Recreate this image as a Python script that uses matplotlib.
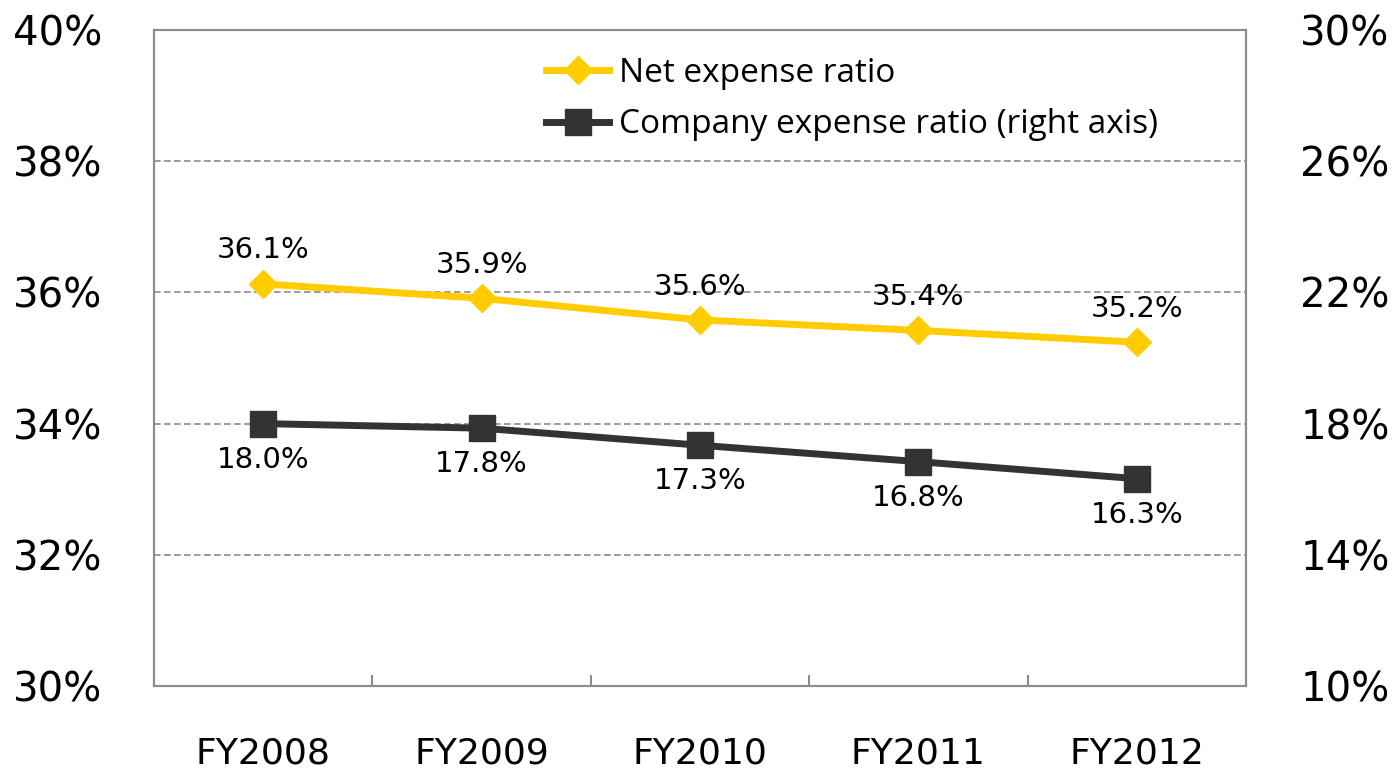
import matplotlib.pyplot as plt
from matplotlib.ticker import FixedLocator, FuncFormatter

years = ["FY2008", "FY2009", "FY2010", "FY2011", "FY2012"]
net_ratio = [36.13, 35.91, 35.58, 35.42, 35.24]
company_ratio = [18.0, 17.86, 17.34, 16.84, 16.32]
net_labels = ["36.1%", "35.9%", "35.6%", "35.4%", "35.2%"]
company_labels = ["18.0%", "17.8%", "17.3%", "16.8%", "16.3%"]

yellow = "#FFCC00"
dark = "#333333"
grey = "#8C8C8C"

fig = plt.figure(figsize=(13.96, 7.71), dpi=100)
ax = fig.add_axes([154 / 1396, 1 - 686 / 771, 1092 / 1396, 656 / 771])
ax2 = ax.twinx()

x = list(range(len(years)))
l1, = ax.plot(x, net_ratio, color=yellow, lw=5, marker="D", ms=14,
              label="Net expense ratio", zorder=3)
l2, = ax2.plot(x, company_ratio, color=dark, lw=5, marker="s", ms=19,
               label="Company expense ratio (right axis)", zorder=3)

ax.set_xlim(-0.5, len(years) - 0.5)
ax.set_ylim(30, 40)
ax2.set_ylim(10, 30)
ax.set_yticks([30, 32, 34, 36, 38, 40])
ax2.set_yticks([10, 14, 18, 22, 26, 30])
pct = FuncFormatter(lambda v, p: f"{v:.0f}%")
ax.yaxis.set_major_formatter(pct)
ax2.yaxis.set_major_formatter(pct)

ax.set_xticks(x)
ax.set_xticklabels(years)
ax.xaxis.set_minor_locator(FixedLocator([i + 0.5 for i in x[:-1]]))
ax.tick_params(axis="x", which="major", length=0, pad=36, labelsize=26)
ax.tick_params(axis="x", which="minor", direction="in", length=8, color=grey, width=1.5)
ax.tick_params(axis="y", length=0, pad=37, labelsize=29)
ax2.tick_params(axis="y", length=0, pad=39, labelsize=29)

ax.grid(axis="y", color=grey, ls=(0, (4, 2)), lw=1.2)
for a in (ax, ax2):
    for s in a.spines.values():
        s.set_color(grey)
        s.set_linewidth(1.5)

for xi, v, t in zip(x, net_ratio, net_labels):
    ax.annotate(t, (xi, v), xytext=(0, 14), textcoords="offset points",
                ha="center", va="bottom", fontsize=21)
for xi, v, t in zip(x, company_ratio, company_labels):
    ax2.annotate(t, (xi, v), xytext=(0, -16), textcoords="offset points",
                 ha="center", va="top", fontsize=21)

fig.legend(handles=[l1, l2], loc="upper left", bbox_to_anchor=(546 / 1396, 1 - 57 / 771),
           frameon=False, prop={"family": "Open Sans", "size": 24}, handlelength=1.9,
           handletextpad=0.3, labelspacing=0.55, borderaxespad=0, borderpad=0)

fig.savefig("out.png", dpi=100)
